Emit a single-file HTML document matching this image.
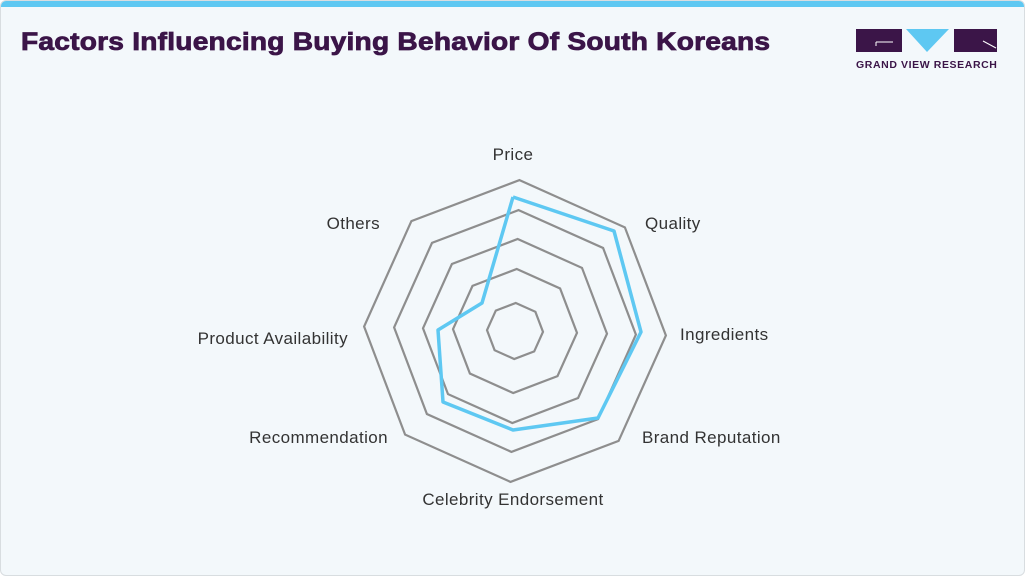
<!DOCTYPE html>
<html><head><meta charset="utf-8"><style>
body{margin:0;width:1025px;height:576px;background:#fff;overflow:hidden;font-family:"Liberation Sans",sans-serif}
.card{position:absolute;left:0;top:0;width:1023px;height:574px;background:#f3f8fb;border:1px solid #d8dde0;border-radius:6px;overflow:hidden}
.bar{position:absolute;left:0;top:0;width:1025px;height:6px;background:#5ec8f2}
h1{position:absolute;left:20px;top:27px;margin:0;font-size:25px;font-weight:900;color:#3b1548;white-space:nowrap;letter-spacing:0.2px;transform-origin:left top;transform:scaleX(1.125);-webkit-text-stroke:0.8px #3b1548}
svg{position:absolute;left:0;top:0}
</style></head><body>
<div class="card"><div class="bar"></div>
<h1>Factors Influencing Buying Behavior Of South Koreans</h1>
<svg width="1025" height="576">
<g>
<rect x="855" y="28" width="46" height="23" fill="#3b1548"/>
<polygon points="905,28 948,28 926,51" fill="#5ec8f2"/>
<rect x="953" y="28" width="43" height="23" fill="#3b1548"/>
<line x1="875" y1="41" x2="892" y2="41" stroke="#fff" stroke-width="1"/>
<line x1="875" y1="41" x2="875" y2="45" stroke="#fff" stroke-width="1"/>
<line x1="982" y1="40" x2="995" y2="47" stroke="#fff" stroke-width="1"/>
<text x="855" y="67" font-size="10.5" font-weight="bold" fill="#3b1548" letter-spacing="0.6">GRAND VIEW RESEARCH</text>
</g>
<g fill="none" stroke="#8e8e8e" stroke-width="2.2" id="rings"></g>
<polyline fill="none" stroke="#5ec8f2" stroke-width="3.5" stroke-linejoin="round" points="512,196 613,230 640,331 597,417 512,429 442,401 437,329 481,302 512,196"/>
<g font-size="17" fill="#333" letter-spacing="0.4">
<text x="512" y="159" text-anchor="middle">Price</text>
<text x="644" y="228">Quality</text>
<text x="679" y="339">Ingredients</text>
<text x="641" y="442">Brand Reputation</text>
<text x="512" y="504" text-anchor="middle">Celebrity Endorsement</text>
<text x="387" y="442" text-anchor="end">Recommendation</text>
<text x="347" y="343" text-anchor="end">Product Availability</text>
<text x="379" y="228" text-anchor="end">Others</text>
</g>
</svg></div>
<script>
var g=document.getElementById('rings'),cx=514,cy=330,rot=1.7*Math.PI/180;
[151,121,92,62,28].forEach(function(r){var p=[];for(var i=0;i<8;i++){var a=-Math.PI/2+i*Math.PI/4+rot;p.push((cx+r*Math.cos(a)).toFixed(1)+','+(cy+r*Math.sin(a)).toFixed(1));}
var e=document.createElementNS('http://www.w3.org/2000/svg','polygon');e.setAttribute('points',p.join(' '));g.appendChild(e);});
</script>
</body></html>
